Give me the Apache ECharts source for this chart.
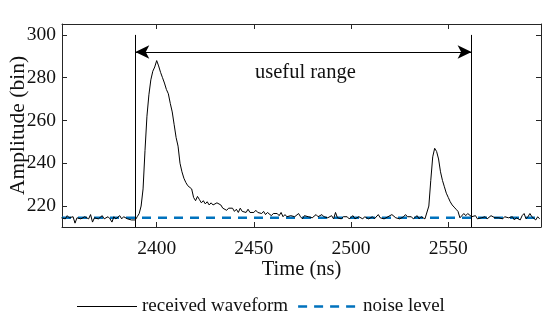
<!DOCTYPE html>
<html><head><meta charset="utf-8">
<script src="https://cdn.jsdelivr.net/npm/echarts@6/dist/echarts.min.js"></script>
<style>html,body{margin:0;padding:0;background:#fff}#c{width:550px;height:321px}</style>
</head><body><div id="c"></div>
<script>
// sample times start at 2351 ns, 1 ns spacing
const tStart = 2351;
const amplitude = [
214.5,215,214,215.5,214.5,214,215,212,214.5,215,
214,214.5,215,214.5,214,216,212.5,214.5,215,214,
214.5,215.5,214,214.5,215,214,212.5,215,214,214.5,
215.5,214,215,214.5,214,214.5,213.5,214,213.5,215,
216.5,220,228,246,262,272,279,283,285,288,
285.5,282.5,280,277.5,274.5,272.5,268,264,258,252,
248,240,236,233,231,229.5,230,228,224,222.5,
224.5,223,221.5,222.5,221,222,220.5,221.5,220.5,221,
221.5,221,220.5,219,219.5,218,219,218.5,219,217.5,
218.5,217,219,217.5,218,217,218.5,217,217.5,217,
218,217,217.5,216.5,217.5,216,217,216.5,215.5,216.5,
216,216.5,215.5,217,215,216,215,214.5,215.5,216,
215,214.5,216.5,215,214,215.5,216,215,215.5,214.5,
215,216,215,214.5,216,215,215.5,214.5,215,215.5,
214,217,214.5,215,214,215,214.5,215,214,214.5,
215.5,214,213.5,215,214.5,214,215,214.5,214,214.5,
215,214,214.5,216,214.5,215,214,214.5,215,214.5,
216,215.5,214.5,215,214,214.5,215,216,215,214.5,
215,214,214.5,215.5,214,215,214.5,214,214.5,220,
232,243,247,245.5,242,236,232,229,226,224,
222,220.5,219.5,218.5,217.5,214.5,215,216.5,215.5,216.5,
216,215,214.5,215.5,214,213.5,214.5,214,215,214,
214.5,215.5,215,214.5,214,214.5,215,214,215,215.5,
214.5,214,215,213.5,214.5,215,213.5,215.5,216.5,214,
215,216.5,215,214.5,213.5,215,214
];
const noiseLevel = 214.5;
const rangeStart = 2389, rangeEnd = 2562;
const arrowLevel = 292, lineTop = 300;
const xMin = 2351.3, xMax = 2597.7, yMin = 210.2, yMax = 305.1;
const xTicks = [2400, 2450, 2500, 2550];
const yTicks = [220, 240, 260, 280, 300];

const wave = amplitude.map((v, i) => [tStart + i, v]);
const font = '"Liberation Serif", "Times New Roman", serif';
const axCol = '#262626';

const chart = echarts.init(document.getElementById('c'), null, {renderer: 'canvas'});
const baseX = {
  type: 'value', min: xMin, max: xMax,
  axisLine: {show: true, onZero: false, lineStyle: {color: axCol, width: 1}},
  axisTick: {show: true, inside: true, length: 5, customValues: xTicks, lineStyle: {color: axCol}},
  splitLine: {show: false}
};
const baseY = {
  type: 'value', min: yMin, max: yMax,
  axisLine: {show: true, onZero: false, lineStyle: {color: axCol, width: 1}},
  axisTick: {show: true, inside: true, length: 5, customValues: yTicks, lineStyle: {color: axCol}},
  splitLine: {show: false}
};
chart.setOption({
  animation: false,
  backgroundColor: '#fff',
  grid: {left: 62, right: 9, top: 24, bottom: 94, containLabel: false, outerBoundsMode: 'none'},
  xAxis: [
    Object.assign({}, baseX, {
      position: 'bottom',
      name: 'Time (ns)', nameLocation: 'middle', nameGap: 32, nameMoveOverlap: false,
      nameTextStyle: {fontFamily: font, fontSize: 20.5, color: '#111'},
      axisLabel: {customValues: xTicks, formatter: v => String(Math.round(v)), fontFamily: font, fontSize: 19.5, color: '#111', margin: 12}
    }),
    Object.assign({}, baseX, {position: 'top', axisLabel: {show: false}})
  ],
  yAxis: [
    Object.assign({}, baseY, {
      position: 'left',
      name: 'Amplitude (bin)', nameLocation: 'middle', nameGap: 33, nameMoveOverlap: false,
      nameTextStyle: {fontFamily: font, fontSize: 21.5, color: '#111'},
      axisLabel: {customValues: yTicks, formatter: v => String(Math.round(v)), fontFamily: font, fontSize: 19.5, color: '#111', margin: 6}
    }),
    Object.assign({}, baseY, {position: 'right', axisLabel: {show: false}})
  ],
  legend: {
    left: 77, top: 297, padding: 0, itemWidth: 60, itemHeight: 14, itemGap: 10,
    textStyle: {fontFamily: font, fontSize: 19, color: '#111'},
    data: [
      {name: 'received waveform', icon: 'path://M0,6 L60,6 L60,7 L0,7 Z', itemStyle: {color: '#000'}},
      {name: 'noise level', icon: 'path://M0,5.5 L9,5.5 L9,8 L0,8 Z M16,5.5 L25,5.5 L25,8 L16,8 Z M32,5.5 L41,5.5 L41,8 L32,8 Z M48,5.5 L57,5.5 L57,8 L48,8 Z M60,6 L60,7 Z', itemStyle: {color: '#0072BD'}}
    ]
  },
  series: [
    {
      name: 'received waveform', type: 'line', data: wave, showSymbol: false, symbol: 'none',
      lineStyle: {color: '#000', width: 1}, itemStyle: {color: '#000'}, z: 3,
      markLine: {
        silent: true, symbol: ['none', 'none'],
        lineStyle: {color: '#000', width: 1, type: 'solid'},
        label: {show: false},
        data: [
          [{coord: [rangeStart, lineTop]}, {coord: [rangeStart, yMin]}],
          [{coord: [rangeEnd, lineTop]}, {coord: [rangeEnd, yMin]}],
          [{coord: [rangeStart, arrowLevel], symbol: 'arrow', symbolSize: [10, 14]},
           {coord: [rangeEnd, arrowLevel], symbol: 'arrow', symbolSize: [10, 14]}]
        ]
      },
      markPoint: {
        silent: true,
        symbol: 'circle', symbolSize: 1, itemStyle: {color: 'rgba(0,0,0,0)'},
        label: {show: true, position: 'inside', formatter: 'useful range', fontFamily: font, fontSize: 20.5, color: '#111'},
        data: [{coord: [(rangeStart + rangeEnd) / 2 + 1, 282.5]}]
      }
    },
    {
      name: 'noise level', type: 'line', data: [[xMin, noiseLevel], [xMax, noiseLevel]],
      showSymbol: false, symbol: 'none',
      lineStyle: {color: '#0072BD', width: 2.5, type: [9, 7]}, itemStyle: {color: '#0072BD'}, z: 2
    }
  ]
});
</script></body></html>
